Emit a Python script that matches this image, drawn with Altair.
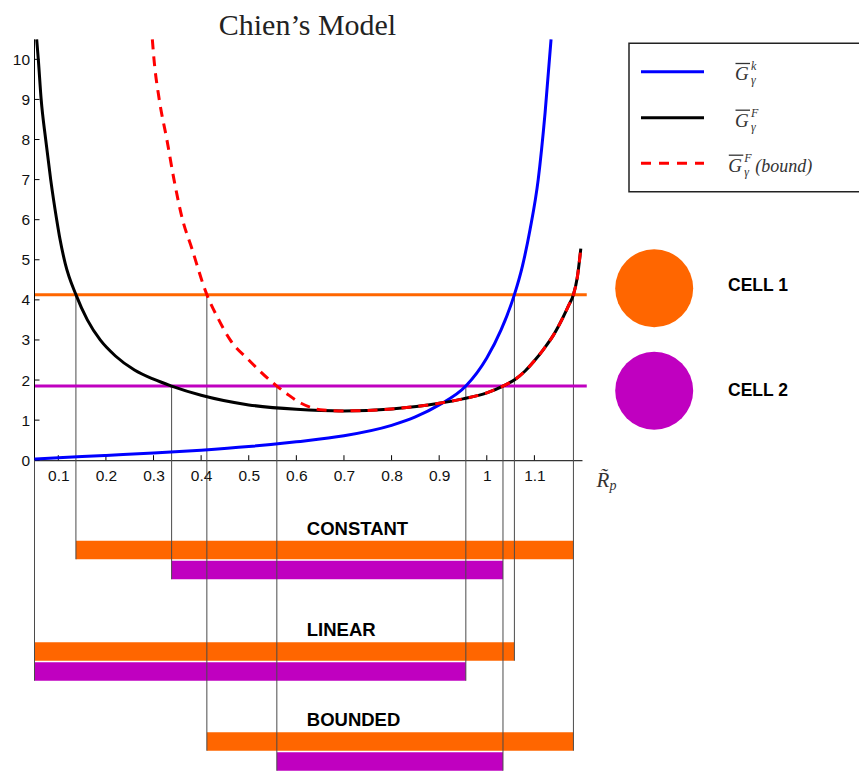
import altair as alt
import pandas as pd

# ---------------- data ----------------
x_ticks = [0.1, 0.2, 0.3, 0.4, 0.5, 0.6, 0.7, 0.8, 0.9, 1.0, 1.1]
y_ticks = [0, 1, 2, 3, 4, 5, 6, 7, 8, 9, 10]

# G^k (blue)
blue_x = [0.05, 0.1, 0.15, 0.2, 0.3, 0.4, 0.5, 0.6, 0.7, 0.8, 0.85, 0.9, 0.956,
          1.0, 1.03, 1.058, 1.075, 1.091, 1.108, 1.1225, 1.135]
blue_y = [0.03, 0.06, 0.09, 0.12, 0.18, 0.25, 0.34, 0.46, 0.61, 0.87, 1.08, 1.38, 1.85,
          2.55, 3.25, 4.13, 4.85, 5.76, 7.0, 8.67, 10.5]

# G^F (black)
black_x = [0.0546, 0.058, 0.064, 0.0735, 0.084, 0.0966, 0.1036, 0.1147, 0.137, 0.161,
           0.188, 0.22, 0.26, 0.3, 0.338, 0.4, 0.5, 0.6, 0.7, 0.8, 0.9, 0.95, 1.0,
           1.034, 1.06, 1.08, 1.1, 1.12, 1.14, 1.16, 1.172, 1.182, 1.19, 1.1975]
black_y = [10.5, 10.0, 9.0, 8.0, 7.0, 6.0, 5.51, 4.9, 4.13, 3.5,
           3.0, 2.6, 2.25, 2.02, 1.85, 1.62, 1.38, 1.27, 1.23, 1.28, 1.42, 1.53, 1.68,
           1.85, 2.02, 2.22, 2.48, 2.78, 3.12, 3.56, 3.86, 4.13, 4.55, 5.28]

# G^F bound (red dashed)
bound_x = [0.2975, 0.301, 0.312, 0.328, 0.343, 0.361, 0.38, 0.412, 0.435, 0.461,
           0.5, 0.559, 0.58, 0.61, 0.63, 0.65, 0.7, 0.8, 0.9, 0.95, 1.0, 1.034,
           1.06, 1.08, 1.1, 1.12, 1.14, 1.16, 1.172, 1.182, 1.19, 1.1975]
bound_y = [10.5, 10.0, 9.0, 8.0, 7.0, 6.0, 5.3, 4.13, 3.55, 3.0,
           2.5, 1.85, 1.66, 1.42, 1.32, 1.26, 1.23, 1.28, 1.42, 1.53, 1.68, 1.85,
           2.02, 2.22, 2.48, 2.78, 3.12, 3.56, 3.86, 4.13, 4.55, 5.28]

cells = ["CELL 1", "CELL 2"]
cell_levels = [4.13, 1.85]
cell_colors = ["#FF6600", "#C000C0"]

models = ["CONSTANT", "LINEAR", "BOUNDED"]
cell1_start = [0.137, 0.05, 0.412]
cell1_end = [1.182, 1.058, 1.182]
cell2_start = [0.338, 0.05, 0.559]
cell2_end = [1.034, 0.956, 1.034]

legend_sups = ["k", "F", "F"]
title_text = "Chien\u2019s Model"

# ---------------- layout ----------------
X_MIN, X_MAX = 0.05, 1.2
Y_MIN, Y_MAX = -7.76, 10.5
W, H = 547.5, 732
PX_X = W / (X_MAX - X_MIN)
PX_Y = H / (Y_MAX - Y_MIN)
LEVEL_END = 1.21
row_top = [-2.01, -4.54, -6.785]
BAR_H = 18.5 / PX_Y
BAR_STEP = 20 / PX_Y
LABEL_X = 0.622
LABEL_GAP = 6 / PX_Y

xscale = alt.Scale(domain=[X_MIN, X_MAX], nice=False, zero=False)
yscale = alt.Scale(domain=[Y_MIN, Y_MAX], nice=False, zero=False)
x_offset = -(0 - Y_MIN) * PX_Y
xaxis = alt.Axis(values=x_ticks, format="~g", offset=x_offset, ticks=False, tickSize=0,
                 domainColor="#000", domainWidth=1, grid=False, title=None,
                 labelFont="Liberation Sans", labelFontSize=15.5, labelColor="#111",
                 labelPadding=8)
yaxis = alt.Axis(values=y_ticks, domain=False, ticks=False, tickSize=0, grid=False,
                 title=None, labelFont="Liberation Sans", labelFontSize=15.5,
                 labelColor="#111", labelPadding=5)


def X(f="x"):
    return alt.X(f"{f}:Q", scale=xscale, axis=xaxis)


def Y(f="y"):
    return alt.Y(f"{f}:Q", scale=yscale, axis=yaxis)


cell_color = alt.Color("cell:N", scale=alt.Scale(domain=cells, range=cell_colors), legend=None)

# ---------------- tables ----------------
bars = []
for i, m in enumerate(models):
    for j, (s, e) in enumerate([(cell1_start[i], cell1_end[i]), (cell2_start[i], cell2_end[i])]):
        top = row_top[i] - j * BAR_STEP
        bars.append({"model": m, "cell": cells[j], "x": s, "x2": e,
                     "y": top, "y2": top - BAR_H, "level": cell_levels[j]})
bars_df = pd.DataFrame(bars)

vlines = {}
for b in bars:
    for xv in (b["x"], b["x2"]):
        top = 0.0 if xv == X_MIN else b["level"]
        if xv not in vlines or b["y2"] < vlines[xv][1]:
            vlines[xv] = (top, b["y2"])
vlines_df = pd.DataFrame([{"x": k, "y": v[0], "y2": v[1]} for k, v in vlines.items()])

labels_df = pd.DataFrame({"model": models, "x": [LABEL_X] * 3,
                          "y": [t + LABEL_GAP for t in row_top]})

levels_df = pd.DataFrame({"cell": cells, "x": [X_MIN] * 2, "x2": [LEVEL_END] * 2,
                          "y": cell_levels})

blue_df = pd.DataFrame({"x": blue_x, "y": blue_y})
black_df = pd.DataFrame({"x": black_x, "y": black_y})
bound_df = pd.DataFrame({"x": bound_x, "y": bound_y})

xt_df = pd.DataFrame({"x": x_ticks, "y": [0.0] * len(x_ticks),
                      "y2": [5 / PX_Y] * len(x_ticks)})
yt_df = pd.DataFrame({"x": [X_MIN] * len(y_ticks), "x2": [X_MIN + 5 / PX_X] * len(y_ticks),
                      "y": y_ticks})
yaxis_df = pd.DataFrame({"x": [X_MIN], "y": [0.0], "y2": [Y_MAX]})

one = pd.DataFrame({"k": [0]})

layers = []

# bars
layers.append(alt.Chart(bars_df).mark_rect().encode(
    x=X(), x2="x2:Q", y=Y(), y2="y2:Q", color=cell_color))
# vertical connector lines
layers.append(alt.Chart(vlines_df).mark_rule(color="#4a4a4a", strokeWidth=1).encode(
    x=X(), y=Y(), y2="y2:Q"))
# level lines
layers.append(alt.Chart(levels_df).mark_rule(strokeWidth=3).encode(
    x=X(), x2="x2:Q", y=Y(), color=cell_color))
# axes decorations
layers.append(alt.Chart(yaxis_df).mark_rule(color="#000", strokeWidth=1).encode(
    x=X(), y=Y(), y2="y2:Q"))
layers.append(alt.Chart(xt_df).mark_rule(color="#000", strokeWidth=1).encode(
    x=X(), y=Y(), y2="y2:Q"))
layers.append(alt.Chart(yt_df).mark_rule(color="#000", strokeWidth=1).encode(
    x=X(), x2="x2:Q", y=Y()))
# curves
layers.append(alt.Chart(blue_df).mark_line(color="#0000FF", strokeWidth=3,
                                           interpolate="monotone").encode(x=X(), y=Y()))
layers.append(alt.Chart(black_df).mark_line(color="#000000", strokeWidth=3,
                                            interpolate="monotone").encode(x=X(), y=Y()))
layers.append(alt.Chart(bound_df).mark_line(color="#FF0000", strokeWidth=3,
                                            strokeDash=[10, 7], interpolate="monotone")
              .encode(x=X(), y=Y()))
# model labels
layers.append(alt.Chart(labels_df).mark_text(font="Liberation Sans", fontWeight="bold",
                                             fontSize=18.5, align="left",
                                             baseline="alphabetic", color="#000")
              .encode(x=X(), y=Y(), text="model:N"))

# title
layers.append(alt.Chart(one).mark_text(text=title_text, font="Liberation Serif",
                                       fontSize=30, align="center", baseline="alphabetic",
                                       color="#222")
              .encode(x=alt.value(273), y=alt.value(-4.3)))

# x-axis title  R~_p
layers.append(alt.Chart(one).mark_text(text="R\u0303", font="Liberation Serif", fontStyle="italic",
                                       fontSize=21, align="left", baseline="alphabetic",
                                       color="#333")
              .encode(x=alt.value(562), y=alt.value(447.5)))
layers.append(alt.Chart(one).mark_text(text="p", font="Liberation Serif", fontStyle="italic",
                                       fontSize=14, align="left", baseline="alphabetic",
                                       color="#333")
              .encode(x=alt.value(575), y=alt.value(451)))

# legend box
layers.append(alt.Chart(one).mark_rect(fill="white", fillOpacity=0, stroke="#222",
                                       strokeWidth=1.5)
              .encode(x=alt.value(594.5), x2=alt.value(860), y=alt.value(4),
                      y2=alt.value(152.4)))
leg_y = [32.4, 78.4, 124.0]
leg_styles = [("#0000FF", None), ("#000000", None), ("#FF0000", [10, 8])]
for ly, (col, dash) in zip(leg_y, leg_styles):
    kw = dict(color=col, strokeWidth=3)
    if dash:
        kw["strokeDash"] = dash
    layers.append(alt.Chart(one).mark_rule(**kw).encode(
        x=alt.value(606.5), x2=alt.value(669.5), y=alt.value(ly)))

leg_gx = [700.5, 700.5, 693.8]
leg_gy = [40.7, 87.4, 132.4]
for gx, gy, sup in zip(leg_gx, leg_gy, legend_sups):
    layers.append(alt.Chart(one).mark_text(text="G", font="Liberation Serif", fontStyle="italic",
                                           fontSize=19, align="left", baseline="alphabetic",
                                           color="#333")
                  .encode(x=alt.value(gx), y=alt.value(gy)))
    layers.append(alt.Chart(one).mark_rule(color="#333", strokeWidth=1.3).encode(
        x=alt.value(gx + 0.5), x2=alt.value(gx + 15), y=alt.value(gy - 16.5)))
    layers.append(alt.Chart(one).mark_text(text=sup, font="Liberation Serif", fontStyle="italic",
                                           fontSize=12, align="left", baseline="alphabetic",
                                           color="#333")
                  .encode(x=alt.value(gx + 16), y=alt.value(gy - 10)))
    layers.append(alt.Chart(one).mark_text(text="\u03b3", font="Liberation Serif", fontStyle="italic",
                                           fontSize=12, align="left", baseline="alphabetic",
                                           color="#333")
                  .encode(x=alt.value(gx + 16), y=alt.value(gy + 4)))
layers.append(alt.Chart(one).mark_text(text="(bound)", font="Liberation Serif", fontStyle="italic",
                                       fontSize=18, align="left", baseline="alphabetic",
                                       color="#333")
              .encode(x=alt.value(leg_gx[2] + 27), y=alt.value(leg_gy[2])))

# cell legend (circles + labels)
circ_y = [249.0, 351.4]
lab_y = [251.7, 356.4]
for c, col, cy, ty in zip(cells, cell_colors, circ_y, lab_y):
    layers.append(alt.Chart(one).mark_circle(color=col, opacity=1, size=6082)
                  .encode(x=alt.value(619.7), y=alt.value(cy)))
    layers.append(alt.Chart(one).mark_text(text=c, font="Liberation Sans", fontWeight="bold",
                                           fontSize=17.5, align="left", baseline="alphabetic",
                                           color="#000")
                  .encode(x=alt.value(693.5), y=alt.value(ty)))

chart = alt.layer(*layers).properties(
    width=W,
    height=H,
    background="white",
    autosize=alt.AutoSizeParams(type="none"),
    padding={"left": 26.5, "top": 31.3, "right": 277, "bottom": 1},
).configure_view(stroke="transparent", strokeWidth=0)

chart.save("out.html", embed_options={"renderer": "svg", "actions": False})
